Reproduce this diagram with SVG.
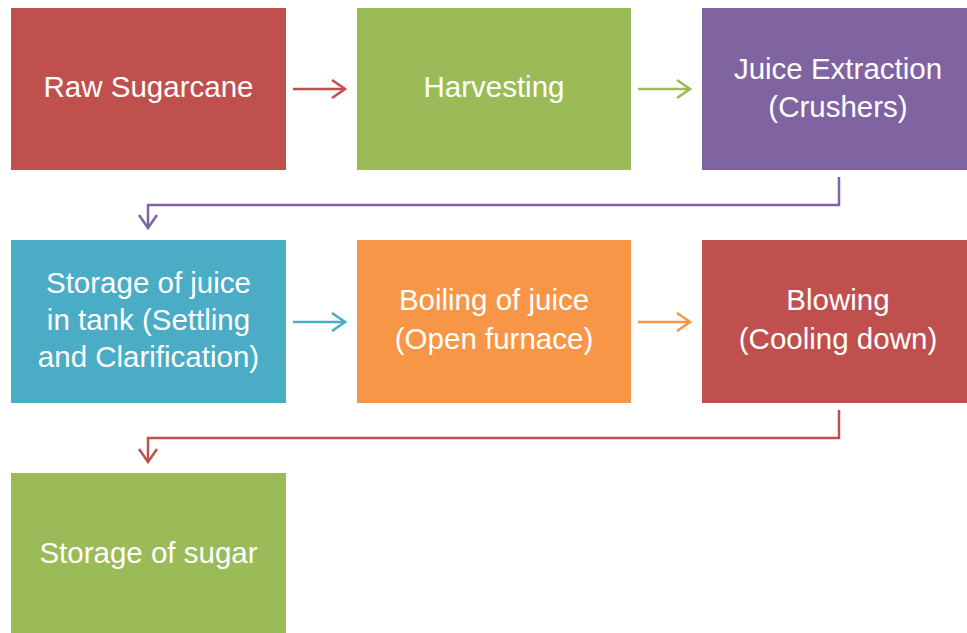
<svg xmlns="http://www.w3.org/2000/svg" width="967" height="633" viewBox="0 0 967 633">
<style>
.lbl{font-family:"Liberation Sans",Arial,sans-serif;font-size:29.5px;fill:#fff;text-anchor:middle}
.c{fill:none;stroke-width:2.5}
</style>
<defs>
<marker id="mr" markerWidth="16" markerHeight="20" refX="14" refY="10" orient="auto" markerUnits="userSpaceOnUse"><path d="M1,1 L14,10 L1,19" fill="none" stroke="#C0504D" stroke-width="2.5"/></marker>
<marker id="mg" markerWidth="16" markerHeight="20" refX="14" refY="10" orient="auto" markerUnits="userSpaceOnUse"><path d="M1,1 L14,10 L1,19" fill="none" stroke="#9BBB59" stroke-width="2.5"/></marker>
<marker id="mp" markerWidth="16" markerHeight="20" refX="14" refY="10" orient="auto" markerUnits="userSpaceOnUse"><path d="M1,1 L14,10 L1,19" fill="none" stroke="#8064A2" stroke-width="2.5"/></marker>
<marker id="mb" markerWidth="16" markerHeight="20" refX="14" refY="10" orient="auto" markerUnits="userSpaceOnUse"><path d="M1,1 L14,10 L1,19" fill="none" stroke="#4BACC6" stroke-width="2.5"/></marker>
<marker id="mo" markerWidth="16" markerHeight="20" refX="14" refY="10" orient="auto" markerUnits="userSpaceOnUse"><path d="M1,1 L14,10 L1,19" fill="none" stroke="#F79646" stroke-width="2.5"/></marker>
</defs>
<rect width="967" height="633" fill="#fff"/>
<g id="connectors">
<path class="c" stroke="#C0504D" d="M293,89 H345" marker-end="url(#mr)"/>
<path class="c" stroke="#9BBB59" d="M638,89 H690" marker-end="url(#mg)"/>
<path class="c" stroke="#8064A2" d="M839,177 V205 H148 V228" marker-end="url(#mp)"/>
<path class="c" stroke="#4BACC6" d="M293,322 H345" marker-end="url(#mb)"/>
<path class="c" stroke="#F79646" d="M638,322 H690" marker-end="url(#mo)"/>
<path class="c" stroke="#C0504D" d="M839,410 V438 H148 V462" marker-end="url(#mr)"/>
</g>
<g id="n1"><rect x="11" y="8" width="275" height="162" fill="#C0504D"/><text class="lbl" x="148.5" y="97">Raw Sugarcane</text></g>
<g id="n2"><rect x="357" y="8" width="274" height="162" fill="#9BBB59"/><text class="lbl" x="494" y="97">Harvesting</text></g>
<g id="n3"><rect x="702" y="8" width="274" height="162" fill="#8064A2"/><text class="lbl" x="838" y="79">Juice Extraction</text><text class="lbl" x="838" y="117">(Crushers)</text></g>
<g id="n4"><rect x="11" y="240" width="275" height="163" fill="#4BACC6"/><text class="lbl" x="148.5" y="293">Storage of juice</text><text class="lbl" x="148.5" y="330">in tank (Settling</text><text class="lbl" x="148.5" y="367">and Clarification)</text></g>
<g id="n5"><rect x="357" y="240" width="274" height="163" fill="#F79646"/><text class="lbl" x="494" y="310">Boiling of juice</text><text class="lbl" x="494" y="349">(Open furnace)</text></g>
<g id="n6"><rect x="702" y="240" width="274" height="163" fill="#C0504D"/><text class="lbl" x="838" y="310">Blowing</text><text class="lbl" x="838" y="349">(Cooling down)</text></g>
<g id="n7"><rect x="11" y="473" width="275" height="170" fill="#9BBB59"/><text class="lbl" x="148.5" y="563">Storage of sugar</text></g>
</svg>
